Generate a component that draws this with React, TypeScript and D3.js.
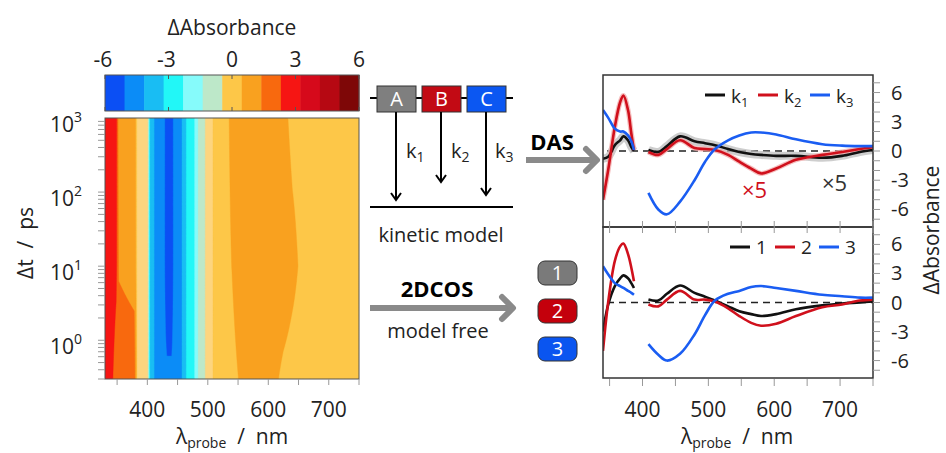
import React from 'react';
import * as d3 from 'd3';

// colour levels of the contour map (ΔAbsorbance, mOD)
const levelThresholds = [-5.08, -4.15, -3.23, -2.31, -1.38, -0.46, 0, 0.46, 1.38, 2.31, 3.23, 4.15, 5.08];
const levelColors = ['#0b4ff4', '#0b8cf7', '#19bdf3', '#22f7f7', '#86fbfb', '#bde8c9', '#fdd57f', '#fdc748',
  '#f9a11f', '#f8690e', '#f61513', '#d6091b', '#b60812', '#7e0707'];
const cbTicks = [-6, -3, 0, 3, 6];

// heat map: spectra at three delays
const hmWavelengths = [330, 340, 348, 352, 378, 383, 400, 404, 408, 413, 428, 432, 440, 443, 455, 460, 466, 476, 481, 486, 494, 497, 507, 510, 530, 540, 560, 600, 625, 640, 660, 750];
const hmLate = [2.9, 2.8, 2.6, 1.0, 1.0, -0.2, -0.2, -3.5, -3.8, -4.4, -5.0, -5.5, -5.5, -5.0, -4.4, -3.8, -3.0, -2.6, -1.9, -1.0, -0.8, -0.2, -0.2, 0.2, 0.3, 0.6, 0.85, 0.85, 0.6, 0.33, 0.25, 0.2];
const hmMid = [2.9, 2.8, 2.5, 1.3, 1.1, -0.2, -0.2, -3.5, -3.8, -4.4, -5.0, -5.6, -5.6, -5.0, -4.4, -3.8, -3.0, -2.6, -1.9, -1.0, -0.8, -0.2, -0.2, 0.2, 0.3, 0.47, 0.9, 0.9, 0.8, 0.6, 0.3, 0.2];
const hmEarly = [2.8, 2.5, 1.9, 1.9, 1.8, -0.2, -0.2, -3.5, -3.8, -4.4, -4.9, -4.95, -4.95, -4.9, -4.4, -3.8, -3.0, -2.6, -1.9, -1.0, -0.8, -0.2, -0.2, 0.2, 0.2, 0.3, 0.6, 0.7, 0.35, 0.25, 0.2, 0.2];
const hmDelays = [0.3, 10, 1000];
const hmYTicks = [1, 10, 100, 1000];
const nmTicks = [400, 500, 600, 700];

// DAS / 2DCOS spectra, two windows
const wlA = [340, 348, 358, 366, 371, 378, 383, 387];
const wlB = [409, 424, 437, 457, 479, 495, 510, 530, 547, 565, 580, 603, 633, 673, 703, 730, 750];
const dasK1A = [-0.8, -0.6, 0.6, 1.1, 1.5, 1.1, 0.4, 0.0];
const dasK2A = [-5.0, -1.9, 2.5, 5.0, 5.7, 4.2, 1.8, 0.1];
const dasK3A = [4.2, 3.4, 2.3, 2.0, 2.0, 1.6, 1.0, 0.1];
const dasK1B = [0.1, -0.1, 0.5, 1.5, 1.0, 0.8, 0.6, 0.2, -0.1, -0.3, -0.4, -0.5, -0.5, -0.7, -0.5, -0.1, 0.1];
const dasK2B = [-0.1, -0.4, 0.2, 1.1, 0.3, 0.2, 0.1, -0.4, -1.1, -1.8, -2.3, -1.8, -0.9, -0.4, -0.1, 0.2, 0.4];
const dasK3B = [-4.3, -6.0, -6.5, -5.2, -3.0, -1.1, 0.2, 1.1, 1.6, 1.9, 1.9, 1.7, 1.2, 0.7, 0.55, 0.5, 0.5];
const cos1A = [-3.0, -0.2, 1.7, 2.5, 2.8, 2.5, 2.0, 1.5];
const cos2A = [-5.0, 0.1, 4.3, 5.8, 6.1, 5.0, 3.6, 2.2];
const cos3A = [3.75, 2.9, 2.0, 1.7, 1.5, 1.2, 1.0, 0.8];
const cos1B = [0.3, 0.2, 0.9, 1.75, 1.0, 0.6, 0.2, -0.4, -0.9, -1.2, -1.4, -1.2, -0.7, -0.3, -0.1, 0.0, 0.1];
const cos2B = [-0.2, -0.4, 0.3, 1.2, 0.3, 0.3, 0.1, -0.6, -1.4, -2.1, -2.4, -2.2, -1.4, -0.5, -0.2, 0.2, 0.3];
const cos3B = [-4.3, -5.4, -6.0, -5.3, -3.3, -1.3, 0.2, 0.9, 1.2, 1.6, 1.7, 1.5, 1.2, 0.8, 0.65, 0.5, 0.5];
const absTicks = [-6, -3, 0, 3, 6];

const FONT = "'Open Sans', Lato, sans-serif";
const BLACK = '#111111';
const RED = '#d0101c';
const BLUE = '#1a5df2';

function Arrow({ x1, x2, y, w = 6, head = 11, color = '#8a8a8a' }: any) {
  return (
    <g stroke={color} strokeWidth={w} fill="none" strokeLinecap="round" strokeLinejoin="round">
      <line x1={x1} x2={x2 - 2} y1={y} y2={y} strokeLinecap="butt" />
      <polyline points={`${x2 - head},${y - head} ${x2},${y} ${x2 - head},${y + head}`} />
    </g>
  );
}

function DownArrow({ x, y1, y2 }: any) {
  return (
    <g stroke="#000" strokeWidth={2} fill="none">
      <line x1={x} x2={x} y1={y1} y2={y2} />
      <polyline points={`${x - 5},${y2 - 7} ${x},${y2} ${x + 5},${y2 - 7}`} />
    </g>
  );
}

function Heatmap() {
  const x = d3.scaleLinear([330, 750], [105, 359]);
  const y = d3.scaleLog([0.3, 1000], [379, 118]);
  const nx = 421, ny = 220;
  const rows = [hmEarly, hmMid, hmLate].map((r) => d3.scaleLinear(hmWavelengths, r));
  const lt = hmDelays.map(Math.log10);
  const values = new Array(nx * ny);
  for (let j = 0; j < ny; j++) {
    const l = lt[2] - (j / (ny - 1)) * (lt[2] - lt[0]);
    for (let i = 0; i < nx; i++) {
      const wl = 330 + (i * 420) / (nx - 1);
      const t = d3.scaleLinear(lt, rows.map((r) => r(wl)));
      values[j * nx + i] = t(l);
    }
  }
  const contours = d3.contours().size([nx, ny]).thresholds(levelThresholds)(values);
  const proj = d3.geoTransform({
    point: function (px: number, py: number) {
      (this as any).stream.point(105 + (px / nx) * 254, 118 + (py / ny) * 261);
    },
  });
  const path = d3.geoPath(proj);
  const minor: number[] = [];
  for (let e = -1; e < 3; e++) for (let k = 1; k < 10; k++) {
    const v = k * Math.pow(10, e);
    if (v >= 0.3 && v <= 1000) minor.push(v);
  }
  const cbX = d3.scaleLinear([-6, 6], [105, 359]);
  const cbEdges = d3.range(14).map((i) => -6 + (i * 12) / 13);
  const cbColors = levelColors.filter((_, i) => i !== 6);
  return (
    <g>
      {/* colour bar */}
      <text x={232} y={35} textAnchor="middle" fontSize={21}>ΔAbsorbance</text>
      {cbEdges.slice(0, 13).map((e, i) => (
        <rect key={i} x={cbX(e)} y={75} width={cbX(cbEdges[i + 1]) - cbX(e) + 0.5} height={36} fill={cbColors[i]} />
      ))}
      <rect x={105} y={75} width={254} height={36} fill="none" stroke="#555" strokeWidth={1} />
      {cbTicks.map((t) => (
        <g key={t}>
          <line x1={cbX(t)} x2={cbX(t)} y1={75} y2={79} stroke="#555" />
          <line x1={cbX(t)} x2={cbX(t)} y1={107} y2={111} stroke="#555" />
          <text x={cbX(t) + (t < 0 ? -2 : 0)} y={67} textAnchor="middle" fontSize={21}>{t < 0 ? `-${-t}` : t}</text>
        </g>
      ))}
      {/* contour map */}
      <defs>
        <clipPath id="hmclip"><rect x={105} y={118} width={254} height={261} /></clipPath>
      </defs>
      <g clipPath="url(#hmclip)">
        <rect x={105} y={118} width={254} height={261} fill={levelColors[0]} />
        {contours.map((c, i) => (
          <path key={i} d={path(c as any) || ''} fill={levelColors[i + 1]} stroke={levelColors[i + 1]} strokeWidth={0.4} />
        ))}
      </g>
      <rect x={105} y={118} width={254} height={261} fill="none" stroke="#555" strokeWidth={1} />
      {minor.map((v) => (
        <line key={v} x1={98} x2={105} y1={y(v)} y2={y(v)} stroke="#999" strokeWidth={1} />
      ))}
      {hmYTicks.map((v) => (
        <text key={v} x={82} y={y(v) + 14} textAnchor="end" fontSize={21}>
          10<tspan dy={-10} fontSize={14}>{Math.round(Math.log10(v))}</tspan>
        </text>
      ))}
      {d3.range(350, 751, 50).map((v) => (
        <line key={v} x1={x(v)} x2={x(v)} y1={379} y2={385} stroke="#999" strokeWidth={1} />
      ))}
      {nmTicks.map((v) => (
        <text key={v} x={x(v)} y={417} textAnchor="middle" fontSize={21}>{v}</text>
      ))}
      <text x={232} y={444} textAnchor="middle" fontSize={21} xmlSpace="preserve">
        λ<tspan dy={4} fontSize={14}>probe</tspan><tspan dy={-4}>  /  nm</tspan>
      </text>
      <text transform="translate(33,243) rotate(-90)" textAnchor="middle" fontSize={21} xmlSpace="preserve">Δt  /  ps</text>
    </g>
  );
}

function SpecPanel({ top, bottom, series, raw }: any) {
  const x = d3.scaleLinear([340, 750], [603, 873]);
  const y = d3.scaleLinear([-7.8, 7.8], [bottom, top]);
  const line = d3.line<[number, number]>().x((d) => x(d[0])).y((d) => y(d[1])).curve(d3.curveCatmullRom.alpha(0.5));
  const seg = (wl: number[], v: number[]) => line(wl.map((w, i) => [w, v[i]] as [number, number])) || '';
  const clipId = `clip${top}`;
  return (
    <g>
      <defs>
        <clipPath id={clipId}><rect x={603} y={top} width={270} height={bottom - top} /></clipPath>
      </defs>
      <line x1={607} x2={873} y1={y(0)} y2={y(0)} stroke="#222" strokeWidth={1.5} strokeDasharray="7,5" />
      <g clipPath={`url(#${clipId})`} fill="none" strokeLinejoin="round">
        {raw && series.map((s: any, i: number) => s.raw ? (
          <g key={`r${i}`} stroke={s.raw} strokeWidth={s.rawW} opacity={0.75}>
            <path d={seg(wlA, s.a)} />
            <path d={seg(wlB, s.b)} />
          </g>
        ) : null)}
        {series.map((s: any, i: number) => (
          <g key={i} stroke={s.color} strokeWidth={2.6}>
            <path d={seg(wlA, s.a)} />
            <path d={seg(wlB, s.b)} />
          </g>
        ))}
      </g>
      <rect x={603} y={top} width={270} height={bottom - top} fill="none" stroke="#333" strokeWidth={1.5} />
      {d3.range(-7, 8).map((v) => (
        <line key={v} x1={873} x2={880} y1={y(v)} y2={y(v)} stroke="#999" strokeWidth={1} />
      ))}
      {absTicks.map((v) => (
        <text key={v} x={891} y={y(v) + 7} fontSize={20}>{v < 0 ? `-${-v}` : v}</text>
      ))}
    </g>
  );
}

export default function App() {
  const x = d3.scaleLinear([340, 750], [603, 873]);
  const dasSeries = [
    { color: BLACK, a: dasK1A, b: dasK1B, raw: '#bdbdbd', rawW: 8 },
    { color: RED, a: dasK2A, b: dasK2B, raw: '#f2a8a8', rawW: 5 },
    { color: BLUE, a: dasK3A, b: dasK3B },
  ];
  const cosSeries = [
    { color: BLACK, a: cos1A, b: cos1B },
    { color: RED, a: cos2A, b: cos2B },
    { color: BLUE, a: cos3A, b: cos3B },
  ];
  return (
    <svg width={946} height={453} style={{ position: 'absolute', left: 0, top: 0, background: '#fff' }}
      fontFamily={FONT} fill="#222">
      <Heatmap />

      {/* kinetic model */}
      <line x1={370} x2={513} y1={98} y2={98} stroke="#000" strokeWidth={2} />
      {[['A', 377, '#7f7f7f'], ['B', 422, '#c20a14'], ['C', 467, '#0b57f2']].map(([l, bx, c]: any) => (
        <g key={l}>
          <rect x={bx} y={86} width={39} height={26} fill={c} stroke="#333" strokeWidth={1} />
          <text x={bx + 19.5} y={106} textAnchor="middle" fontSize={20} fill="#fff">{l}</text>
        </g>
      ))}
      <DownArrow x={396} y1={112} y2={200} />
      <DownArrow x={441} y1={112} y2={182} />
      <DownArrow x={486} y1={112} y2={195} />
      {[[406, '1'], [451, '2'], [495, '3']].map(([kx, s]: any) => (
        <text key={s} x={kx} y={158} fontSize={20}>k<tspan dy={4} fontSize={14}>{s}</tspan></text>
      ))}
      <line x1={370} x2={513} y1={207} y2={207} stroke="#000" strokeWidth={2} />
      <text x={441} y={242} textAnchor="middle" fontSize={20}>kinetic model</text>

      <text x={552} y={150} textAnchor="middle" fontSize={22} fontWeight="bold" fill="#000">DAS</text>
      <Arrow x1={526} x2={597} y={160} />

      <text x={437} y={297} textAnchor="middle" fontSize={22} fontWeight="bold" fill="#000">2DCOS</text>
      <Arrow x1={370} x2={513} y={308} />
      <text x={438} y={338} textAnchor="middle" fontSize={20}>model free</text>
      {[['1', 261, '#7a7a7a'], ['2', 299, '#c4000c'], ['3', 337, '#0a55f0']].map(([l, by, c]: any) => (
        <g key={l}>
          <rect x={538} y={by} width={39} height={24} rx={7} fill={c} stroke="#333" strokeWidth={1} />
          <text x={557.5} y={by + 19} textAnchor="middle" fontSize={20} fill="#fff">{l}</text>
        </g>
      ))}

      {/* spectra panels */}
      <SpecPanel top={75} bottom={227} series={dasSeries} raw />
      <SpecPanel top={227} bottom={378} series={cosSeries} />
      {d3.range(350, 751, 50).map((v) => (
        <g key={v} stroke="#999" strokeWidth={1}>
          <line x1={x(v)} x2={x(v)} y1={221} y2={233} />
          <line x1={x(v)} x2={x(v)} y1={379} y2={386} />
        </g>
      ))}
      {nmTicks.map((v) => (
        <text key={v} x={x(v)} y={417} textAnchor="middle" fontSize={21}>{v}</text>
      ))}
      <text x={737} y={444} textAnchor="middle" fontSize={21} xmlSpace="preserve">
        λ<tspan dy={4} fontSize={14}>probe</tspan><tspan dy={-4}>  /  nm</tspan>
      </text>
      <text transform="translate(939,230) rotate(-90)" textAnchor="middle" fontSize={21}>ΔAbsorbance</text>

      {/* legends */}
      {[[705, BLACK, '1'], [758, RED, '2'], [810, BLUE, '3']].map(([lx, c, s]: any) => (
        <g key={s}>
          <line x1={lx} x2={lx + 20} y1={95} y2={95} stroke={c} strokeWidth={3} />
          <text x={lx + 26} y={103} fontSize={19}>k<tspan dy={4} fontSize={13}>{s}</tspan></text>
        </g>
      ))}
      {[[730, BLACK, '1'], [775, RED, '2'], [819, BLUE, '3']].map(([lx, c, s]: any) => (
        <g key={s}>
          <line x1={lx} x2={lx + 20} y1={247} y2={247} stroke={c} strokeWidth={3} />
          <text x={lx + 26} y={254} fontSize={19}>{s}</text>
        </g>
      ))}
      <text x={742} y={198} fontSize={22} fill={RED}>×5</text>
      <text x={822} y={191} fontSize={22} fill="#333">×5</text>
    </svg>
  );
}
